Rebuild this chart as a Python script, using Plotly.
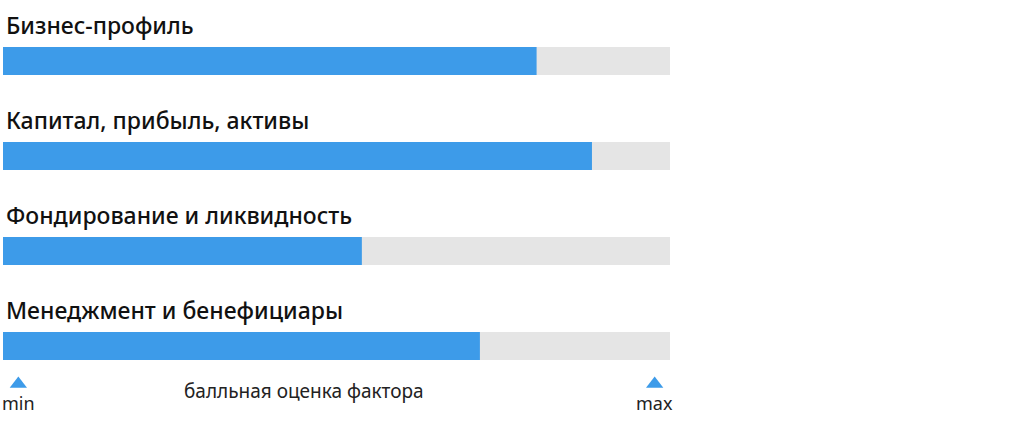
import plotly.graph_objects as go

categories = ["Бизнес-профиль", "Капитал, прибыль, активы",
              "Фондирование и ликвидность", "Менеджмент и бенефициары"]
scores = [0.80, 0.883, 0.538, 0.715]
max_score = [1.0, 1.0, 1.0, 1.0]
scale_labels = ["min", "max"]
scale_pos = [0.023, 0.977]
axis_title = "балльная оценка фактора"

W, H = 1024, 423
idx = list(range(len(categories)))

fig = go.Figure()
fig.add_trace(go.Bar(y=idx, x=max_score, orientation="h", width=0.295,
                     marker=dict(color="#e5e5e5", line=dict(width=0)),
                     hoverinfo="skip", showlegend=False))
fig.add_trace(go.Bar(y=idx, x=scores, orientation="h", width=0.295,
                     marker=dict(color="#3d9be9", line=dict(width=0)),
                     showlegend=False))

for i, c in enumerate(categories):
    fig.add_annotation(x=0, y=i - 0.38, text=c, showarrow=False,
                       xanchor="left", yanchor="middle", xshift=1,
                       font=dict(family="Noto Sans", size=23, color="#111", weight=500))

# min / max markers
fig.add_trace(go.Scatter(x=scale_pos, y=[3.40, 3.40], mode="markers",
                         marker=dict(symbol="triangle-up", size=15, color="#3d9be9"),
                         hoverinfo="skip", showlegend=False))
for p, t in zip(scale_pos, scale_labels):
    fig.add_annotation(x=p, y=3.605, text=t, showarrow=False,
                       xanchor="center", yanchor="middle",
                       font=dict(family="Noto Sans", size=18, color="#222"))
fig.add_annotation(x=0.451, y=3.47, text=axis_title, showarrow=False,
                   xanchor="center", yanchor="middle",
                   font=dict(family="Noto Sans", size=19, color="#222"))

fig.update_layout(
    width=W, height=H, barmode="overlay",
    margin=dict(l=0, r=0, t=0, b=0),
    paper_bgcolor="white", plot_bgcolor="white",
    xaxis=dict(domain=[3 / W, 670 / W], range=[0, 1], visible=False, fixedrange=True),
    yaxis=dict(range=[(H - 61) / 95, -61 / 95], visible=False, fixedrange=True),
)
fig.write_html("out.html", config={"displayModeBar": False},
               post_script="document.body.style.margin='0';")
